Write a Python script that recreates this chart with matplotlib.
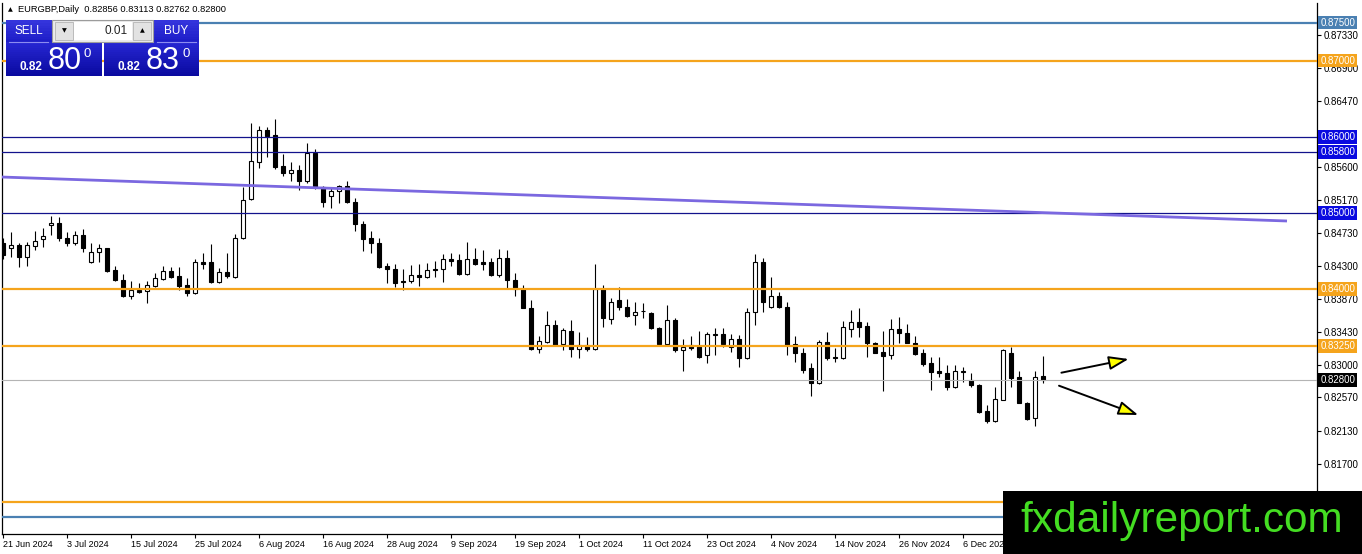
import matplotlib
matplotlib.use("Agg")
import matplotlib.pyplot as plt
from matplotlib.patches import Rectangle
from matplotlib.lines import Line2D
from matplotlib.colors import to_rgb
import numpy as np

plt.rcParams['font.family'] = ['Liberation Sans', 'DejaVu Sans']

# ---------------- data (EURGBP daily) ----------------
opens = [0.8460, 0.8453, 0.8457, 0.8442, 0.8456, 0.8465, 0.8484, 0.8486, 0.8467, 0.8460,
         0.8471, 0.8435, 0.8448, 0.8453, 0.8425, 0.8411, 0.8390, 0.8398, 0.8397, 0.8403,
         0.8413, 0.8423, 0.8417, 0.8405, 0.8394, 0.8435, 0.8435, 0.8409, 0.8422, 0.8415,
         0.8467, 0.8518, 0.8567, 0.8609, 0.8602, 0.8561, 0.8552, 0.8556, 0.8542, 0.8578,
         0.8534, 0.8522, 0.8529, 0.8535, 0.8514, 0.8485, 0.8467, 0.8460, 0.8430, 0.8426,
         0.8410, 0.8410, 0.8418, 0.8415, 0.8426, 0.8426, 0.8439, 0.8438, 0.8419, 0.8439,
         0.8435, 0.8435, 0.8418, 0.8440, 0.8411, 0.8399, 0.8375, 0.8321, 0.8330, 0.8352,
         0.8327, 0.8344, 0.8321, 0.8326, 0.8321, 0.8399, 0.8360, 0.8385, 0.8376, 0.8365,
         0.8371, 0.8368, 0.8348, 0.8327, 0.8359, 0.8319, 0.8326, 0.8325, 0.8313, 0.8339,
         0.8340, 0.8323, 0.8334, 0.8309, 0.8369, 0.8435, 0.8376, 0.8390, 0.8376, 0.8327,
         0.8316, 0.8296, 0.8276, 0.8330, 0.8310, 0.8309, 0.8347, 0.8356, 0.8351, 0.8329,
         0.8317, 0.8313, 0.8347, 0.8342, 0.8329, 0.8316, 0.8302, 0.8292, 0.8289, 0.8271,
         0.8291, 0.8280, 0.8273, 0.8239, 0.8226, 0.8254, 0.8316, 0.8284, 0.8250, 0.8230,
         0.82856]
highs = [0.8467, 0.8475, 0.8460, 0.8461, 0.8476, 0.8480, 0.8496, 0.8494, 0.8475, 0.8476,
         0.8479, 0.8460, 0.8459, 0.8454, 0.8430, 0.8419, 0.8410, 0.8407, 0.8410, 0.8421,
         0.8430, 0.8428, 0.8428, 0.8414, 0.8439, 0.8447, 0.8459, 0.8427, 0.8447, 0.8472,
         0.8534, 0.8618, 0.8614, 0.8613, 0.8623, 0.8577, 0.8567, 0.8563, 0.8592, 0.8584,
         0.8535, 0.8534, 0.8536, 0.8542, 0.8519, 0.8489, 0.8476, 0.8467, 0.8434, 0.8432,
         0.8426, 0.8431, 0.8432, 0.8434, 0.8436, 0.8446, 0.8447, 0.8446, 0.8461, 0.8453,
         0.8451, 0.8440, 0.8452, 0.8451, 0.8421, 0.8405, 0.8385, 0.8338, 0.8371, 0.8359,
         0.8348, 0.8359, 0.8343, 0.8336, 0.8432, 0.8405, 0.8388, 0.8402, 0.8386, 0.8382,
         0.8381, 0.8369, 0.8350, 0.8379, 0.8361, 0.8334, 0.8338, 0.8344, 0.8343, 0.8348,
         0.8348, 0.8341, 0.8339, 0.8375, 0.8446, 0.8440, 0.8415, 0.8396, 0.8382, 0.8338,
         0.8322, 0.8302, 0.8333, 0.8343, 0.8322, 0.8358, 0.8372, 0.8375, 0.8356, 0.8330,
         0.8344, 0.8360, 0.8363, 0.8354, 0.8338, 0.8321, 0.8310, 0.8310, 0.8300, 0.8300,
         0.8297, 0.8289, 0.8275, 0.8247, 0.8271, 0.8321, 0.8323, 0.8292, 0.8251, 0.8292,
         0.83113]
lows = [0.8439, 0.8442, 0.8428, 0.8430, 0.8451, 0.8455, 0.8471, 0.8463, 0.8456, 0.8457,
        0.8448, 0.8434, 0.8435, 0.8422, 0.8410, 0.8389, 0.8386, 0.8394, 0.8381, 0.8402,
        0.8411, 0.8414, 0.8398, 0.8390, 0.8393, 0.8426, 0.8408, 0.8407, 0.8414, 0.8414,
        0.8465, 0.8517, 0.8559, 0.8573, 0.8557, 0.8548, 0.8542, 0.8530, 0.8539, 0.8531,
        0.8507, 0.8506, 0.8513, 0.8513, 0.8476, 0.8449, 0.8447, 0.8427, 0.8407, 0.8402,
        0.8398, 0.8407, 0.8403, 0.8414, 0.8415, 0.8409, 0.8430, 0.8418, 0.8418, 0.8431,
        0.8425, 0.8417, 0.8415, 0.8401, 0.8390, 0.8374, 0.8319, 0.8316, 0.8329, 0.8325,
        0.8319, 0.8310, 0.8309, 0.8318, 0.8320, 0.8350, 0.8354, 0.8372, 0.8363, 0.8352,
        0.8362, 0.8347, 0.8326, 0.8326, 0.8317, 0.8292, 0.8319, 0.8309, 0.8302, 0.8313,
        0.8323, 0.8317, 0.8297, 0.8308, 0.8352, 0.8369, 0.8375, 0.8375, 0.8313, 0.8304,
        0.8289, 0.8259, 0.8275, 0.8306, 0.8304, 0.8308, 0.8336, 0.8336, 0.8310, 0.8315,
        0.8265, 0.8308, 0.8329, 0.8328, 0.8313, 0.8298, 0.8267, 0.8284, 0.8267, 0.8269,
        0.8277, 0.8271, 0.8236, 0.8223, 0.8225, 0.8253, 0.8271, 0.8249, 0.8227, 0.8219,
        0.82762]
closes = [0.8444, 0.8457, 0.8442, 0.8457, 0.8463, 0.8469, 0.8486, 0.8467, 0.8460, 0.8471,
          0.8453, 0.8448, 0.8453, 0.8423, 0.8411, 0.8390, 0.8398, 0.8396, 0.8405, 0.8414,
          0.8423, 0.8415, 0.8403, 0.8394, 0.8435, 0.8432, 0.8409, 0.8422, 0.8417, 0.8467,
          0.8517, 0.8568, 0.8609, 0.8601, 0.8560, 0.8552, 0.8556, 0.8542, 0.8578, 0.8534,
          0.8514, 0.8529, 0.8535, 0.8514, 0.8485, 0.8465, 0.8460, 0.8428, 0.8426, 0.8407,
          0.8409, 0.8418, 0.8415, 0.8425, 0.8424, 0.8439, 0.8436, 0.8419, 0.8439, 0.8432,
          0.8433, 0.8418, 0.8440, 0.8411, 0.8399, 0.8375, 0.8321, 0.8331, 0.8352, 0.8326,
          0.8346, 0.8321, 0.8326, 0.8321, 0.8399, 0.8361, 0.8382, 0.8376, 0.8364, 0.8369,
          0.8370, 0.8348, 0.8327, 0.8359, 0.8319, 0.8323, 0.8322, 0.8310, 0.8340, 0.8340,
          0.8327, 0.8334, 0.8309, 0.8369, 0.8435, 0.8382, 0.8390, 0.8376, 0.8326, 0.8316,
          0.8293, 0.8276, 0.8330, 0.8309, 0.8309, 0.8350, 0.8356, 0.8350, 0.8329, 0.8316,
          0.8312, 0.8347, 0.8342, 0.8329, 0.8314, 0.8301, 0.8291, 0.8289, 0.8271, 0.8292,
          0.8292, 0.8273, 0.8238, 0.8226, 0.8255, 0.8319, 0.8283, 0.8250, 0.8229, 0.8284,
          0.82800]

date_tick_bars = [0, 8, 16, 24, 32, 40, 48, 56, 64, 72, 80, 88, 96, 104, 112, 120, 128]
date_tick_labels = ["21 Jun 2024", "3 Jul 2024", "15 Jul 2024", "25 Jul 2024", "6 Aug 2024",
                    "16 Aug 2024", "28 Aug 2024", "9 Sep 2024", "19 Sep 2024", "1 Oct 2024",
                    "11 Oct 2024", "23 Oct 2024", "4 Nov 2024", "14 Nov 2024", "26 Nov 2024",
                    "6 Dec 2024", "18 Dec 2024"]

price_ticks = [0.87330, 0.86900, 0.86470, 0.85600, 0.85170, 0.84730, 0.84300, 0.83870,
               0.83430, 0.83000, 0.82570, 0.82130, 0.81700]

level_prices = [0.87500, 0.87000, 0.86000, 0.85800, 0.85000, 0.84000, 0.83250, 0.81200, 0.81000]
level_kinds = ["steel", "orange", "blue", "blue", "blue", "orange", "orange", "orange", "steel"]
# the two lowest levels have their scale boxes hidden behind the watermark
level_boxed = [True, True, True, True, True, True, True, False, False]

current_price = 0.82800

trend_bars = [-0.375, 160.5]
trend_prices = [0.85469, 0.84890]

arrow_up = [(132.3, 0.82895), (140.7, 0.83075)]
arrow_down = [(132.0, 0.82724), (141.9, 0.82339)]

header_text = "EURGBP,Daily  0.82856 0.83113 0.82762 0.82800"

# ---------------- figure ----------------
W, H = 1362, 554
fig = plt.figure(figsize=(W / 100, H / 100), dpi=100)
fig.patch.set_facecolor("white")

ax = fig.add_axes([2 / W, 20 / H, (1317 - 2) / W, (534 - 3) / H])
ax.set_facecolor("white")
ax.set_xlim(-0.125, 164.25)
ax.set_ylim(0.807739, 0.877566)

o = np.array(opens); h = np.array(highs); l = np.array(lows); c = np.array(closes)
x = np.arange(len(o))
up = c > o
ax.vlines(x, l, h, color="black", lw=0.8, zorder=2)
body_h = np.maximum(np.abs(c - o), 0.00001)
ax.bar(x, body_h, bottom=np.minimum(o, c), width=0.62,
       color=np.where(up, "white", "black"), edgecolor="black", linewidth=0.8, zorder=3)

line_colors = {"steel": "#4a80b2", "orange": "#f5a41c", "blue": "#12128c"}
box_colors = {"steel": "#4a80b2", "orange": "#f5a41c", "blue": "#0a0ae0"}
line_widths = {"steel": 1.6, "orange": 1.6, "blue": 0.9}

ax.axhline(current_price, color="#b4b4b4", lw=0.8, zorder=4)
for p, k in zip(level_prices, level_kinds):
    ax.axhline(p, color=line_colors[k], lw=line_widths[k], zorder=4)

ax.plot(trend_bars, trend_prices, color="#7b68e0", lw=2.0, solid_capstyle="butt", zorder=4)

for (s, e) in (arrow_up, arrow_down):
    ax.annotate("", xy=e, xytext=s,
                arrowprops=dict(arrowstyle="-|>,head_length=1.2,head_width=0.42",
                                fc="#ffff00", ec="black", lw=1.4, shrinkA=0, shrinkB=0),
                zorder=5)

# axes styling
ax.spines["top"].set_visible(False)
for side in ("left", "bottom", "right"):
    ax.spines[side].set_color("black")
    ax.spines[side].set_linewidth(0.9)

ax.yaxis.tick_right()
ax.set_yticks(price_ticks)
ax.set_yticklabels([f"{t:.5f}" for t in price_ticks])
ax.tick_params(axis="y", direction="out", length=3, width=0.8, pad=1.5, labelsize=7,
               colors="black", left=False)
ax.set_xticks(date_tick_bars)
ax.set_xticklabels(date_tick_labels, ha="left")
ax.tick_params(axis="x", direction="out", length=3, width=0.8, pad=1.5, labelsize=6.5,
               colors="black")

# price boxes on the scale
for p, k, boxed in zip(level_prices, level_kinds, level_boxed):
    if not boxed:
        continue
    ax.annotate(f"{p:.5f}", xy=(1, p), xycoords=("axes fraction", "data"),
                xytext=(2.3, 0), textcoords="offset points", ha="left", va="center",
                fontsize=7, color="white", annotation_clip=False, zorder=6,
                bbox=dict(boxstyle="square,pad=0.2", fc=box_colors[k], ec="none"))
ax.annotate(f"{current_price:.5f}", xy=(1, current_price), xycoords=("axes fraction", "data"),
            xytext=(2.3, 0), textcoords="offset points", ha="left", va="center",
            fontsize=7, color="white", annotation_clip=False, zorder=6,
            bbox=dict(boxstyle="square,pad=0.2", fc="black", ec="none"))


# ---------------- figure-level decorations ----------------
def frect(x0, y0, x1, y1, **kw):
    r = Rectangle((x0 / W, 1 - y1 / H), (x1 - x0) / W, (y1 - y0) / H,
                  transform=fig.transFigure, **kw)
    fig.add_artist(r)


def ftext(xp, yp, s, **kw):
    return fig.text(xp / W, 1 - yp / H, s, **kw)


def fline(x0, y0, x1, y1, **kw):
    fig.add_artist(Line2D([x0 / W, x1 / W], [1 - y0 / H, 1 - y1 / H],
                          transform=fig.transFigure, **kw))


def grad_rect(x0, y0, x1, y1, ctop, cbot, n=17, z=5):
    a = np.array(to_rgb(ctop)); b = np.array(to_rgb(cbot))
    step = (y1 - y0) / n
    for k in range(n):
        t = k / (n - 1)
        col = a * (1 - t) + b * t
        frect(x0, y0 + k * step, x1, min(y1, y0 + (k + 1) * step + 0.6), fc=col, ec="none", zorder=z)


# header
ftext(8, 10, "▲", fontsize=4.5, va="center", ha="left", family="DejaVu Sans", zorder=6)
ftext(18, 10, header_text, fontsize=6.7, va="center", ha="left", zorder=6)

# one-click trading panel
grad_rect(6, 20, 52, 42, "#3434dc", "#1e1ec8", n=8)
grad_rect(153, 20, 199, 42, "#3434dc", "#1e1ec8", n=8)
grad_rect(6, 42, 102, 76, "#2626d2", "#0a0aa0")
grad_rect(104, 42, 199, 76, "#2626d2", "#0a0aa0")
fline(9, 41.5, 48, 41.5, color="#8c8cf0", lw=0.8, zorder=6)
fline(157, 41.5, 196, 41.5, color="#8c8cf0", lw=0.8, zorder=6)
frect(52, 20, 153, 42, fc="#ececec", ec="#9c9c9c", lw=0.8, zorder=6)
frect(74, 22, 132, 40, fc="white", ec="none", zorder=6)
frect(55, 22, 73, 40, fc="#e2e2e2", ec="#b4b4b4", lw=0.6, zorder=6)
frect(133, 22, 151, 40, fc="#e2e2e2", ec="#b4b4b4", lw=0.6, zorder=6)
ftext(64, 31, "▼", fontsize=4.5, ha="center", va="center", family="DejaVu Sans", zorder=7)
ftext(142, 31, "▲", fontsize=4.5, ha="center", va="center", family="DejaVu Sans", zorder=7)
ftext(128, 31, "0.01", fontsize=8.5, ha="right", va="center", color="#222222", zorder=7)
ftext(29, 31, "SELL", fontsize=8.5, ha="center", va="center", color="white", zorder=7)
ftext(176, 31, "BUY", fontsize=8.5, ha="center", va="center", color="white", zorder=7)

ftext(20, 70, "0.82", fontsize=8.5, fontweight="bold", ha="left", va="baseline", color="white", zorder=7)
ftext(48, 69, "80", fontsize=22, ha="left", va="baseline", color="white", zorder=7)
ftext(84, 57, "0", fontsize=9.5, ha="left", va="baseline", color="white", zorder=7)
ftext(117, 70, "0.82", fontsize=8.5, fontweight="bold", ha="left", va="baseline", color="white", zorder=7)
ftext(146, 69, "83", fontsize=22, ha="left", va="baseline", color="white", zorder=7)
ftext(183, 57, "0", fontsize=9.5, ha="left", va="baseline", color="white", zorder=7)

# watermark
frect(1003, 491, 1362, 554, fc="black", ec="none", zorder=20)
ftext(1182, 532, "fxdailyreport.com", fontsize=30.5, ha="center", va="baseline",
      color="#44dd22", zorder=21)

fig.savefig("out.png", dpi=100, facecolor="white")
